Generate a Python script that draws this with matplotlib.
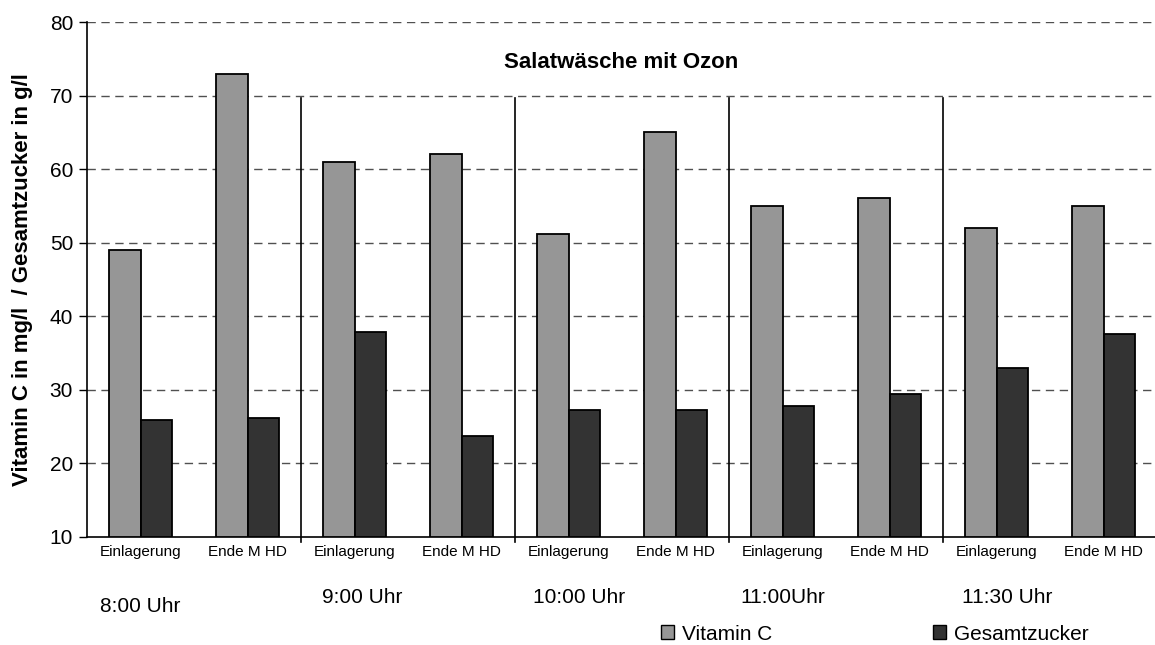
import matplotlib
matplotlib.use("Agg")
import matplotlib.pyplot as plt
import matplotlib.transforms as mtransforms
from matplotlib.patches import Patch

plt.rcParams['font.family'] = ['Liberation Sans', 'DejaVu Sans']

categories = ["Einlagerung", "Ende M HD"] * 5
groups = ["8:00 Uhr", "9:00 Uhr", "10:00 Uhr", "11:00Uhr", "11:30 Uhr"]
vitamin_c = [49, 73, 61, 62, 51.2, 65, 55, 56.1, 52, 55]
gesamtzucker = [25.9, 26.2, 37.9, 23.7, 27.3, 27.3, 27.8, 29.4, 33.0, 37.6]
yticks = [10, 20, 30, 40, 50, 60, 70, 80]

fig = plt.figure(figsize=(11.55, 6.45), dpi=100)
ax = fig.add_axes([87/1155, 1-537/645, 1070/1155, 515/645])

n = len(categories)
x = list(range(n))
w = 0.29
ax.bar([i - w/2 for i in x], [v - 10 for v in vitamin_c], bottom=10, width=w,
       color='#969696', edgecolor='black', linewidth=1.3, label='Vitamin C', zorder=3)
ax.bar([i + w/2 for i in x], [v - 10 for v in gesamtzucker], bottom=10, width=w,
       color='#333333', edgecolor='black', linewidth=1.3, label='Gesamtzucker', zorder=3)

ax.set_xlim(-0.5, n - 0.5)
ax.set_ylim(10, 80)
ax.set_yticks(yticks)
ax.set_yticklabels([str(t) for t in yticks], fontsize=15)
for t in yticks[1:]:
    ax.axhline(t, color='#505050', linestyle=(0, (6, 4)), linewidth=1.0, zorder=1)

ax.set_xticks(x)
ax.set_xticklabels(categories, fontsize=11)
ax.tick_params(axis='x', length=0, pad=6)
ax.tick_params(axis='y', length=6, width=1, direction='out', pad=4)

for s in ['top', 'right']:
    ax.spines[s].set_visible(False)
ax.spines['left'].set_linewidth(1.2)
ax.spines['bottom'].set_linewidth(1.2)

# group separators
trans = mtransforms.blended_transform_factory(ax.transData, ax.transAxes)
for g in range(1, len(groups)):
    xs = 2 * g - 0.5
    ax.plot([xs, xs], [-0.01, (69.7 - 10) / 70], color='black', linewidth=1.2,
            transform=trans, clip_on=False, zorder=4)

# group labels
group_y = [-0.134, -0.118, -0.118, -0.118, -0.118]
group_dx = [0.0, 0.07, 0.1, 0.0, 0.1]
for g, lab in enumerate(groups):
    ax.text(2 * g + group_dx[g], group_y[g], lab, transform=trans, ha='center', va='center',
            fontsize=15)

ax.set_ylabel("Vitamin C in mg/l  / Gesamtzucker in g/l", fontsize=16, fontweight='bold')
ax.yaxis.set_label_coords(-0.0505, 0.5)

ax.text(0.499, 0.922, "Salatwäsche mit Ozon", transform=ax.transAxes, ha='center', va='center',
        fontsize=16, fontweight='bold')

handles = [Patch(facecolor='#969696', edgecolor='black', label='Vitamin C'),
           Patch(facecolor='#333333', edgecolor='black', label='Gesamtzucker')]
fig.legend(handles=handles, loc='center left', bbox_to_anchor=(661/1155, 1-634/645), ncol=2,
           frameon=False, fontsize=15, handlelength=0.62, handleheight=0.62, handletextpad=0.4,
           columnspacing=7.7, borderpad=0, borderaxespad=0)

fig.savefig("out.png", dpi=100)
